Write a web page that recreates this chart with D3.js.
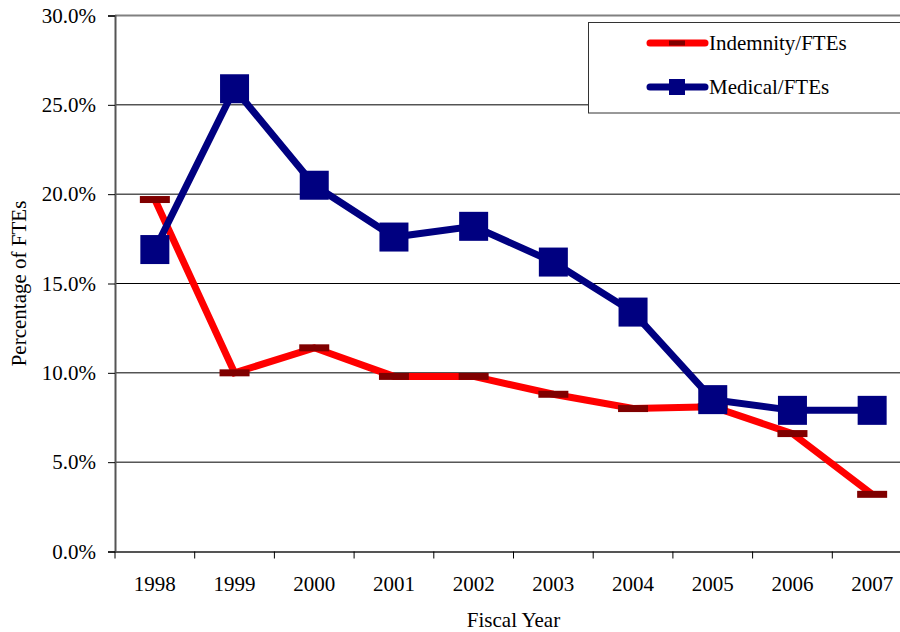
<!DOCTYPE html>
<html>
<head>
<meta charset="utf-8">
<script src="https://cdn.jsdelivr.net/npm/d3@7"></script>
<style>
  body { margin: 0; background: #fff; }
  text { font-family: "Liberation Serif", "Times New Roman", serif; fill: #000; }
</style>
</head>
<body>
<div id="chart"></div>
<script>
var years = ["1998","1999","2000","2001","2002","2003","2004","2005","2006","2007"];
var indemnity = [19.7, 10.0, 11.4, 9.8, 9.8, 8.8, 8.0, 8.1, 6.6, 3.2];
var medical = [16.9, 25.9, 20.5, 17.6, 18.2, 16.2, 13.4, 8.5, 7.9, 7.9];
var yTicks = [0, 5, 10, 15, 20, 25, 30];

var width = 900, height = 632;
var mLeft = 115, mTop = 15.5, plotW = 797, plotH = 536;
var fs = "21px";

var svg = d3.select("#chart").append("svg").attr("width", width).attr("height", height);

var x = d3.scaleBand().domain(years).range([mLeft, mLeft + plotW]);
var y = d3.scaleLinear().domain([0, 30]).range([mTop + plotH, mTop]);

// gridlines
svg.append("g").selectAll("line")
  .data(yTicks.slice(1))
  .enter().append("line")
    .attr("x1", mLeft).attr("x2", mLeft + plotW)
    .attr("y1", function(d) { return y(d); })
    .attr("y2", function(d) { return y(d); })
    .attr("stroke", function(d) { return d === 30 ? "#808080" : "#000"; })
    .attr("stroke-width", function(d) { return d === 30 ? 2 : 1; });

// y axis
var yAxis = svg.append("g")
  .attr("transform", "translate(" + mLeft + ",0)")
  .call(d3.axisLeft(y).tickValues(yTicks).tickSize(7).tickPadding(12)
    .tickFormat(function(d) { return d.toFixed(1) + "%"; }));
yAxis.select(".domain").attr("stroke", "#555").attr("stroke-width", 2);
yAxis.selectAll(".tick line").attr("stroke", "#000");
yAxis.selectAll("text").style("font-size", fs).attr("font-family", null);

// x axis
var xAxis = svg.append("g")
  .attr("transform", "translate(0," + (mTop + plotH) + ")")
  .call(d3.axisBottom(x).tickSize(0).tickPadding(25));
xAxis.select(".domain").attr("stroke", "#555").attr("stroke-width", 2);
xAxis.selectAll("text").style("font-size", fs).attr("font-family", null);
xAxis.selectAll(".sep")
  .data(d3.range(years.length + 1))
  .enter().append("line")
    .attr("x1", function(i) { return mLeft + i * x.step(); })
    .attr("x2", function(i) { return mLeft + i * x.step(); })
    .attr("y1", 0).attr("y2", 7)
    .attr("stroke", "#000");

function cx(d, i) { return x(years[i]) + x.bandwidth() / 2; }

var line = d3.line()
  .x(function(d, i) { return cx(d, i); })
  .y(function(d) { return y(d); });

// indemnity
svg.append("path").datum(indemnity)
  .attr("d", line).attr("fill", "none")
  .attr("stroke", "#ff0000").attr("stroke-width", 7);
svg.append("g").selectAll("rect")
  .data(indemnity)
  .enter().append("rect")
    .attr("x", function(d, i) { return cx(d, i) - 15; })
    .attr("y", function(d) { return y(d) - 3.5; })
    .attr("width", 30).attr("height", 7)
    .attr("fill", "#800000");

// medical
svg.append("path").datum(medical)
  .attr("d", line).attr("fill", "none")
  .attr("stroke", "#000080").attr("stroke-width", 7);
svg.append("g").selectAll("rect")
  .data(medical)
  .enter().append("rect")
    .attr("x", function(d, i) { return cx(d, i) - 14.5; })
    .attr("y", function(d) { return y(d) - 14.5; })
    .attr("width", 29).attr("height", 29)
    .attr("fill", "#000080");

// axis titles
svg.append("text")
  .attr("x", x("2002") + x.bandwidth()).attr("y", 627)
  .attr("text-anchor", "middle").style("font-size", fs)
  .text("Fiscal Year");
svg.append("text")
  .attr("transform", "translate(26," + (mTop + plotH / 2) + ") rotate(-90)")
  .attr("text-anchor", "middle").style("font-size", fs)
  .text("Percentage of FTEs");

// legend
var legend = svg.append("g");
legend.append("rect")
  .attr("x", 588.5).attr("y", 22.5).attr("width", 340).attr("height", 90.5)
  .attr("fill", "#fff").attr("stroke", "#333").attr("stroke-width", 1);
var series = [
  {name: "Indemnity/FTEs", color: "#ff0000", mark: "#800000", dash: true},
  {name: "Medical/FTEs", color: "#000080", mark: "#000080", dash: false}
];
series.forEach(function(s, i) {
  var ly = 43 + i * 44;
  legend.append("line")
    .attr("x1", 650).attr("x2", 705).attr("y1", ly).attr("y2", ly)
    .attr("stroke", s.color).attr("stroke-width", 7).attr("stroke-linecap", "round");
  if (s.dash) {
    legend.append("rect").attr("x", 669).attr("y", ly - 2.5).attr("width", 16).attr("height", 5).attr("fill", s.mark);
  } else {
    legend.append("rect").attr("x", 669).attr("y", ly - 8).attr("width", 16).attr("height", 16).attr("fill", s.mark);
  }
  legend.append("text")
    .attr("x", 709).attr("y", ly + 7).style("font-size", fs)
    .text(s.name);
});
</script>
</body>
</html>
